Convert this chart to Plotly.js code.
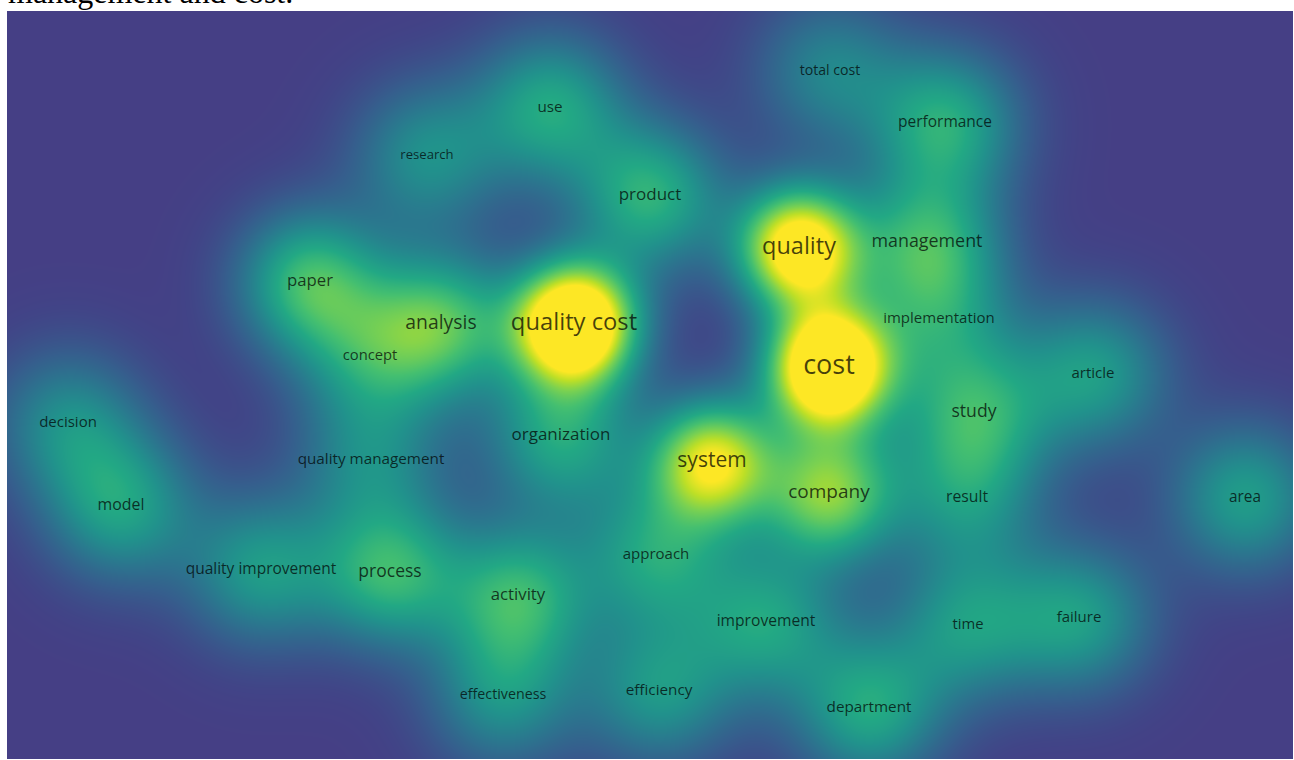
<!DOCTYPE html>
<html>
<head>
<meta charset="utf-8">
<script src="https://cdn.plot.ly/plotly-3.0.1.min.js"></script>
<style>
  html, body { margin: 0; padding: 0; background: #ffffff; }
  #chart { width: 1294px; height: 760px; }
</style>
</head>
<body>
<div id="chart"></div>
<script>
// ---- Data: keyword map (map coordinates, label weight, local density peak) ----
const keywords = [
  "total cost", "use", "performance", "research", "product", "quality", "management",
  "paper", "analysis", "quality cost", "implementation", "concept", "cost", "article",
  "decision", "study", "organization", "quality management", "system", "company",
  "result", "area", "model", "approach", "quality improvement", "process", "activity",
  "improvement", "time", "failure", "effectiveness", "efficiency", "department"
];
const mapX = [
  1.80, -1.00, 2.95, -2.23, 0.00, 1.49, 2.77,
  -3.40, -2.09, -0.76, 2.89, -2.80, 1.79, 4.43,
  -5.82, 3.24, -0.89, -2.79, 0.62, 1.79,
  3.17, 5.95, -5.29, 0.06, -3.89, -2.60, -1.32,
  1.16, 3.18, 4.29, -1.47, 0.09, 2.19
];
const mapY = [
  3.14, 2.77, 2.62, 2.29, 1.89, 1.37, 1.42,
  1.03, 0.61, 0.61, 0.66, 0.29, 0.18, 0.11,
  -0.38, -0.28, -0.51, -0.75, -0.77, -1.08,
  -1.13, -1.13, -1.21, -1.70, -1.85, -1.88, -2.11,
  -2.37, -2.40, -2.33, -3.10, -3.06, -3.23
];
// label weight (drives label size)
const weight = [
  0.33, 0.42, 0.44, 0.25, 0.56, 1.08, 0.63,
  0.54, 0.75, 1.10, 0.40, 0.38, 1.36, 0.40,
  0.40, 0.61, 0.56, 0.42, 0.88, 0.72,
  0.46, 0.43, 0.47, 0.40, 0.44, 0.60, 0.54,
  0.45, 0.39, 0.40, 0.34, 0.42, 0.42
];
// local density peak of each item
const peak = [
  0.33, 0.50, 0.52, 0.38, 0.55, 1.18, 0.52,
  0.60, 0.60, 1.45, 0.32, 0.36, 1.45, 0.44,
  0.36, 0.48, 0.50, 0.32, 0.95, 0.76,
  0.36, 0.45, 0.46, 0.47, 0.43, 0.56, 0.55,
  0.46, 0.41, 0.44, 0.38, 0.41, 0.50
];
const captionText = "management and cost.";

// ---- Density surface derived from the items ----
const X_RANGE = [-6.43, 6.43];
const Y_RANGE = [-3.74, 3.74];
const STEP = 0.04;
// kernel width narrows from 0.52 (light items) to 0.42 (heavy items)
const kernelSigma = p => 0.52 - 0.10 * Math.max(0, Math.min(1, (p - 0.5) / 0.5));

const gx = [], gy = [];
for (let v = X_RANGE[0]; v <= X_RANGE[1] + 1e-9; v += STEP) gx.push(+v.toFixed(3));
for (let v = Y_RANGE[0]; v <= Y_RANGE[1] + 1e-9; v += STEP) gy.push(+v.toFixed(3));
const twoS2 = peak.map(p => 2 * kernelSigma(p) * kernelSigma(p));
const z = gy.map(yy => gx.map(xx => {
  let d = 0;
  for (let i = 0; i < keywords.length; i++) {
    const dx = xx - mapX[i], dy = yy - mapY[i];
    d += peak[i] * Math.exp(-(dx * dx + dy * dy) / twoS2[i]);
  }
  return d;
}));

// background (low end) into viridis
const colorscale = [
  [0.000, "rgb(69,63,133)"],
  [0.030, "rgb(65,68,135)"],
  [0.152, "rgb(53,95,141)"],
  [0.273, "rgb(42,120,142)"],
  [0.394, "rgb(33,145,140)"],
  [0.515, "rgb(34,168,132)"],
  [0.636, "rgb(68,191,112)"],
  [0.758, "rgb(122,209,81)"],
  [0.879, "rgb(189,223,38)"],
  [1.000, "rgb(253,231,37)"]
];

const density = {
  type: "heatmap",
  x: gx, y: gy, z: z,
  zmin: 0, zmax: 1,
  zsmooth: "best",
  colorscale: colorscale,
  showscale: false,
  hoverinfo: "skip"
};

const labels = {
  type: "scatter",
  mode: "text",
  x: mapX, y: mapY,
  text: keywords,
  textposition: "middle center",
  textfont: {
    family: "Open Sans, sans-serif",
    size: weight.map(w => 10 + 12.5 * w),
    color: "rgba(0,0,0,0.72)"
  },
  hoverinfo: "text",
  cliponaxis: false,
  showlegend: false
};

const layout = {
  width: 1294, height: 760,
  margin: { l: 7, r: 1, t: 11, b: 1, pad: 0 },
  paper_bgcolor: "#ffffff",
  plot_bgcolor: "rgb(69,63,133)",
  xaxis: { range: X_RANGE, visible: false, fixedrange: true },
  yaxis: { range: Y_RANGE, visible: false, fixedrange: true },
  showlegend: false,
  annotations: [{
    text: captionText,
    xref: "paper", yref: "paper",
    x: 0, y: 1, xanchor: "left", yanchor: "bottom",
    showarrow: false, borderpad: 0,
    font: { family: "Liberation Serif, Times New Roman, serif", size: 32, color: "#000000" }
  }]
};

Plotly.newPlot("chart", [density, labels], layout, { displayModeBar: false, staticPlot: true });
</script>
</body>
</html>
